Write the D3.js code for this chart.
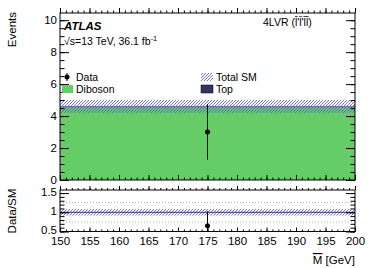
<!DOCTYPE html>
<html>
<head>
<meta charset="utf-8">
<script src="https://cdn.jsdelivr.net/npm/d3@7"></script>
<style>
  body { margin: 0; background: white; }
  text { font-family: "Liberation Sans", Arial, Helvetica, sans-serif; }
</style>
</head>
<body>
<div id="chart"></div>
<script>
// Data (a single bin 150-200 GeV)
const binLow = [150];
const binHigh = [200];
const diboson = [4.55];
const topQ = [0.06];
const sysUnc = [0.4];
const dataX = [175];
const dataY = [3];
const dataErr = [1.73];
const mainTicks = [0, 2, 4, 6, 8, 10];
const ratioTicks = [0.5, 1, 1.5];
const ratioGrid = [0.75, 1.25];
const xTicks = [150, 155, 160, 165, 170, 175, 180, 185, 190, 195, 200];

// Set up SVG dimensions
const w = 374, h = 268;
const left = 60, right = 355;
const mainTop = 13, mainBottom = 180;
const ratTop = 190, ratBottom = 231.5;

const svg = d3.select("#chart").append("svg")
  .attr("width", w).attr("height", h)
  .style("background-color", "white");

const defs = svg.append("defs");
defs.append("pattern")
  .attr("id", "hatch")
  .attr("patternUnits", "userSpaceOnUse")
  .attr("width", 3).attr("height", 3)
  .append("path")
  .attr("d", "M-1,1 l2,-2 M0,3 l3,-3 M2,4 l2,-2")
  .attr("stroke", "#5a5ad8")
  .attr("stroke-width", 0.85);
defs.append("clipPath").attr("id", "clipMain")
  .append("rect").attr("x", left).attr("y", mainTop)
  .attr("width", right - left).attr("height", mainBottom - mainTop);
defs.append("clipPath").attr("id", "clipRat")
  .append("rect").attr("x", left).attr("y", ratTop)
  .attr("width", right - left).attr("height", ratBottom - ratTop);

// Scales
const xScale = d3.scaleLinear().domain([150, 200]).range([left, right]);
const yScale = d3.scaleLinear().domain([0, 10.45]).range([mainBottom, mainTop]);
const rScale = d3.scaleLinear().domain([0.5, 1.58]).range([ratBottom, ratTop]);

// Stacked backgrounds
const rows = binLow.map((b, i) => ({lo: b, hi: binHigh[i], Diboson: diboson[i], Top: topQ[i]}));
const stack = d3.stack().keys(["Diboson", "Top"])(rows);
const colors = {Diboson: "#66cc66", Top: "#333366"};

const gMain = svg.append("g").attr("clip-path", "url(#clipMain)");
stack.forEach(layer => {
  gMain.selectAll(null)
    .data(layer)
    .enter()
    .append("rect")
    .attr("x", d => xScale(d.data.lo))
    .attr("width", d => xScale(d.data.hi) - xScale(d.data.lo))
    .attr("y", d => yScale(d[1]))
    .attr("height", d => yScale(d[0]) - yScale(d[1]))
    .attr("fill", colors[layer.key]);
});

// Total SM uncertainty band
const totals = rows.map(r => r.Diboson + r.Top);
gMain.selectAll(null)
  .data(rows)
  .enter()
  .append("rect")
  .attr("x", d => xScale(d.lo))
  .attr("width", d => xScale(d.hi) - xScale(d.lo))
  .attr("y", (d, i) => yScale(totals[i] + sysUnc[i]))
  .attr("height", (d, i) => yScale(totals[i] - sysUnc[i]) - yScale(totals[i] + sysUnc[i]))
  .attr("fill", "url(#hatch)");

// Data points
gMain.selectAll(null)
  .data(dataX)
  .enter()
  .append("line")
  .attr("x1", d => xScale(d)).attr("x2", d => xScale(d))
  .attr("y1", (d, i) => yScale(dataY[i] - dataErr[i]))
  .attr("y2", (d, i) => yScale(dataY[i] + dataErr[i]))
  .attr("stroke", "black").attr("stroke-width", 1);
gMain.selectAll(null)
  .data(dataX)
  .enter()
  .append("circle")
  .attr("cx", d => xScale(d))
  .attr("cy", (d, i) => yScale(dataY[i]))
  .attr("r", 2.5)
  .attr("fill", "black");

// Ratio panel
const gRat = svg.append("g").attr("clip-path", "url(#clipRat)");
gRat.selectAll(null)
  .data(ratioGrid)
  .enter()
  .append("line")
  .attr("x1", left).attr("x2", right)
  .attr("y1", d => rScale(d)).attr("y2", d => rScale(d))
  .attr("stroke", "#aaa").attr("stroke-width", 1)
  .attr("stroke-dasharray", "1,2");
gRat.selectAll(null)
  .data(rows)
  .enter()
  .append("rect")
  .attr("x", d => xScale(d.lo))
  .attr("width", d => xScale(d.hi) - xScale(d.lo))
  .attr("y", (d, i) => rScale(1 + sysUnc[i] / totals[i]))
  .attr("height", (d, i) => rScale(1 - sysUnc[i] / totals[i]) - rScale(1 + sysUnc[i] / totals[i]))
  .attr("fill", "url(#hatch)");
gRat.append("line")
  .attr("x1", left).attr("x2", right)
  .attr("y1", rScale(1)).attr("y2", rScale(1))
  .attr("stroke", "#333388").attr("stroke-width", 1);

const ratio = dataX.map((x, i) => ({x: x, r: dataY[i] / totals[0], e: dataErr[i] / totals[0]}));
gRat.selectAll(null)
  .data(ratio)
  .enter()
  .append("line")
  .attr("x1", d => xScale(d.x)).attr("x2", d => xScale(d.x))
  .attr("y1", d => rScale(d.r - d.e)).attr("y2", d => rScale(d.r + d.e))
  .attr("stroke", "black").attr("stroke-width", 1);
gRat.selectAll(null)
  .data(ratio)
  .enter()
  .append("circle")
  .attr("cx", d => xScale(d.x))
  .attr("cy", d => rScale(d.r))
  .attr("r", 2.5)
  .attr("fill", "black");

// Axes helper: inward ticks, major + minor
function ticks(g, axisFn, scale, major, minor, majLen, minLen, labels, pad) {
  g.call(axisFn(scale).tickValues(minor).tickSize(-minLen).tickFormat(""));
  const m = g.append("g").call(axisFn(scale).tickValues(major).tickSize(-majLen).tickPadding(pad || 3)
    .tickFormat(labels ? d3.format("") : ""));
  g.selectAll(".domain").remove();
  g.selectAll("line").attr("stroke", "black");
  g.selectAll("text").attr("font-size", "11.5px").attr("font-family", "Liberation Sans, Arial, sans-serif");
  return m;
}

const xMinor = d3.range(150, 201, 1);
const yMinor = d3.range(0, 10.45, 0.5);
const rMinor = d3.range(0.5, 1.581, 0.1);

// main panel axes
ticks(svg.append("g").attr("transform", `translate(0,${mainBottom})`), d3.axisBottom, xScale, xTicks, xMinor, 5, 2.5, false);
ticks(svg.append("g").attr("transform", `translate(0,${mainTop})`), d3.axisTop, xScale, xTicks, xMinor, -5, -2.5, false);
ticks(svg.append("g").attr("transform", `translate(${left},0)`), d3.axisLeft, yScale, mainTicks, yMinor, 9, 4.5, true);
ticks(svg.append("g").attr("transform", `translate(${right},0)`), d3.axisRight, yScale, mainTicks, yMinor, 9, 4.5, false);
// ratio panel axes
ticks(svg.append("g").attr("transform", `translate(0,${ratBottom})`), d3.axisBottom, xScale, xTicks, xMinor, 4, 2, true, 5);
ticks(svg.append("g").attr("transform", `translate(0,${ratTop})`), d3.axisTop, xScale, xTicks, xMinor, -4, -2, false);
ticks(svg.append("g").attr("transform", `translate(${left},0)`), d3.axisLeft, rScale, ratioTicks, rMinor, 9, 4.5, true)
  .selectAll("text").attr("dy", "0.2em");
ticks(svg.append("g").attr("transform", `translate(${right},0)`), d3.axisRight, rScale, ratioTicks, rMinor, 9, 4.5, false);

// frames
[[mainTop, mainBottom], [ratTop, ratBottom]].forEach(p => {
  svg.append("rect")
    .attr("x", left).attr("y", p[0])
    .attr("width", right - left).attr("height", p[1] - p[0])
    .attr("fill", "none").attr("stroke", "black").attr("stroke-width", 1);
});

// axis titles
svg.append("text")
  .attr("transform", "translate(16,12) rotate(-90)")
  .attr("text-anchor", "end").attr("font-size", "11.5px")
  .text("Events");
svg.append("text")
  .attr("transform", "translate(16,211) rotate(-90)")
  .attr("text-anchor", "middle").attr("font-size", "11.5px")
  .text("Data/SM");
const xt = svg.append("text")
  .attr("x", right).attr("y", 264)
  .attr("text-anchor", "end").attr("font-size", "11.5px");
xt.append("tspan").style("text-decoration", "overline").text("M");
xt.append("tspan").text(" [GeV]");

// labels
svg.append("text")
  .attr("x", 64).attr("y", 30)
  .attr("font-size", "11.5px").attr("font-weight", "bold").attr("font-style", "italic")
  .text("ATLAS");
const lum = svg.append("text")
  .attr("x", 64).attr("y", 45).attr("font-size", "10.5px");
lum.append("tspan").text("\u221As=13 TeV, 36.1 fb");
lum.append("tspan").attr("dy", -4).attr("font-size", "7.5px").text("-1");
svg.append("text")
  .attr("x", 263).attr("y", 26).attr("font-size", "10.5px")
  .text("4LVR (l\u0304'l\u0304'l\u0304l\u0304)");

// legend
const legend = svg.append("g").attr("font-size", "10.5px");
legend.append("circle").attr("cx", 67).attr("cy", 77).attr("r", 2.5).attr("fill", "black");
legend.append("line").attr("x1", 67).attr("x2", 67).attr("y1", 73).attr("y2", 81).attr("stroke", "black");
legend.append("text").attr("x", 76).attr("y", 81).text("Data");
legend.append("rect").attr("x", 62).attr("y", 85).attr("width", 11).attr("height", 8).attr("fill", colors.Diboson);
legend.append("text").attr("x", 76).attr("y", 93).text("Diboson");
legend.append("rect").attr("x", 201).attr("y", 73).attr("width", 12).attr("height", 8).attr("fill", "url(#hatch)");
legend.append("text").attr("x", 216).attr("y", 81).text("Total SM");
legend.append("rect").attr("x", 201).attr("y", 85).attr("width", 12).attr("height", 8)
  .attr("fill", colors.Top).attr("stroke", "black").attr("stroke-width", 0.5);
legend.append("text").attr("x", 216).attr("y", 93).text("Top");
</script>
</body>
</html>
